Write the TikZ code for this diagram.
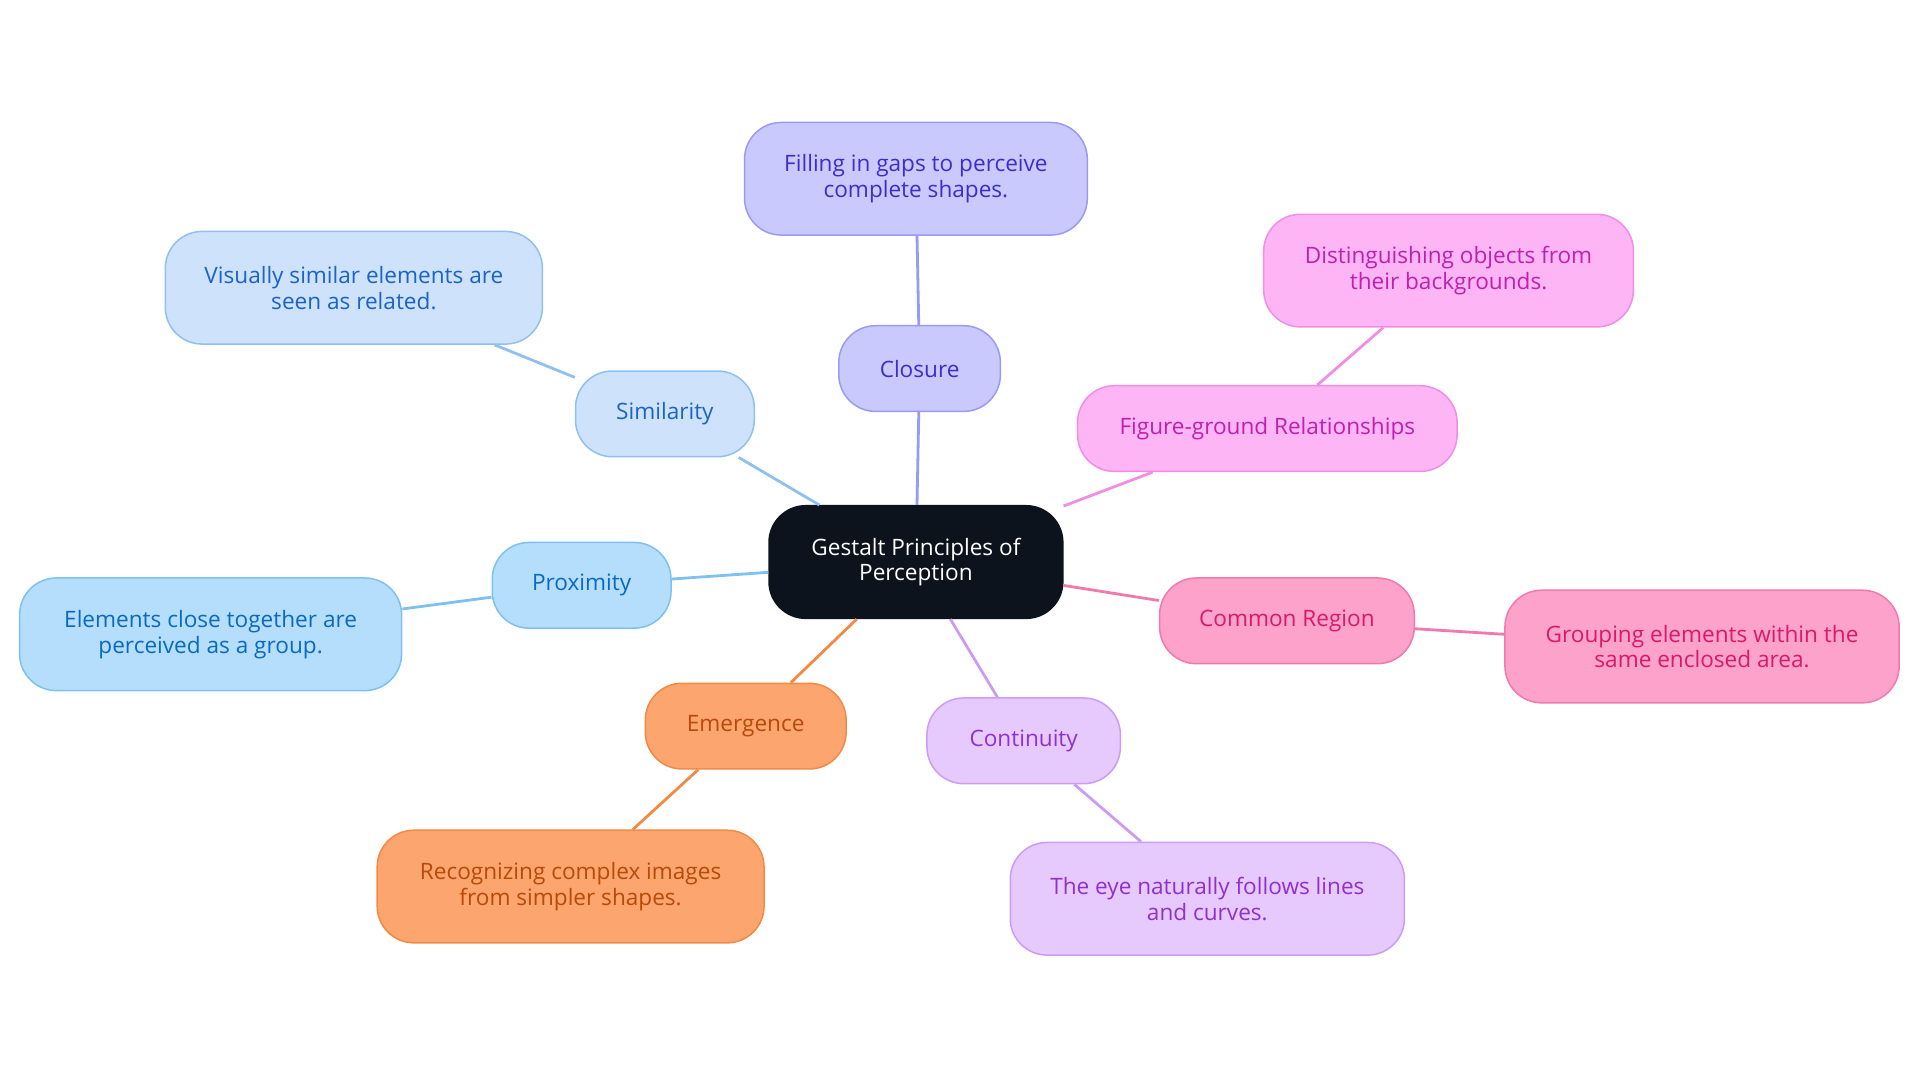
\documentclass[tikz,border=0pt]{standalone}
\usepackage{fontspec}
\setmainfont{Open Sans}
\usetikzlibrary{positioning}
\definecolor{centerfill}{HTML}{0D131C}
\definecolor{simfill}{HTML}{CFE2FB}\definecolor{simline}{HTML}{90C0F0}\definecolor{simtext}{HTML}{1A64C8}
\definecolor{clofill}{HTML}{C9C9FD}\definecolor{cloline}{HTML}{9A9AF5}\definecolor{clotext}{HTML}{3A30C8}
\definecolor{figfill}{HTML}{FDB5F5}\definecolor{figline}{HTML}{F08EE6}\definecolor{figtext}{HTML}{C020B0}
\definecolor{comfill}{HTML}{FCA2CB}\definecolor{comline}{HTML}{F07AAE}\definecolor{comtext}{HTML}{D81A6A}
\definecolor{confill}{HTML}{E6CAFD}\definecolor{conline}{HTML}{CC9CF5}\definecolor{context}{HTML}{9030D0}
\definecolor{emefill}{HTML}{FDA56E}\definecolor{emeline}{HTML}{F08A45}\definecolor{emetext}{HTML}{B84A0A}
\definecolor{profill}{HTML}{B5DEFD}\definecolor{proline}{HTML}{7EC0F0}\definecolor{protext}{HTML}{0A6AC0}
\tikzset{box/.style={draw,rounded corners=0.6cm,inner sep=0pt,align=center,font=\fontsize{10.5}{12}\selectfont,line width=0.7pt}}
\tikzset{topic/.style 2 args={box,fill=#1fill,draw=#1line,text=#1text,minimum width=#2,minimum height=1.4cm}}
\tikzset{leaf/.style 2 args={box,fill=#1fill,draw=#1line,text=#1text,minimum width=#2,minimum height=1.84cm}}
\tikzset{ed/.style={line width=1.3pt}}

\begin{document}
\begin{tikzpicture}[x=0.02cm,y=-0.02cm]
\useasboundingbox (0,0) rectangle (1568,884);

\node[box,fill=centerfill,draw=centerfill,text=white,minimum width=4.8cm,minimum height=1.84cm] (gestalt) at (748,459) {Gestalt Principles of\\Perception};

\node[topic={sim}{2.92cm}] (sim) at (543,338) {Similarity};
\node[leaf={sim}{6.16cm}] (simleaf) at (289,235) {Visually similar elements are\\seen as related.};
\node[topic={clo}{2.64cm}] (clo) at (751,301) {Closure};
\node[leaf={clo}{5.6cm}] (cloleaf) at (748,146) {Filling in gaps to perceive\\complete shapes.};
\node[topic={fig}{6.2cm}] (fig) at (1035,350) {Figure-ground Relationships};
\node[leaf={fig}{6.04cm}] (figleaf) at (1183,221) {Distinguishing objects from\\their backgrounds.};
\node[topic={com}{4.16cm}] (com) at (1051,507) {Common Region};
\node[leaf={com}{6.44cm}] (comleaf) at (1390,528) {Grouping elements within the\\same enclosed area.};
\node[topic={con}{3.16cm}] (con) at (836,605) {Continuity};
\node[leaf={con}{6.44cm}] (conleaf) at (986,734) {The eye naturally follows lines\\and curves.};
\node[topic={eme}{3.28cm}] (eme) at (609,593) {Emergence};
\node[leaf={eme}{6.32cm}] (emeleaf) at (466,724) {Recognizing complex images\\from simpler shapes.};
\node[topic={pro}{2.92cm}] (pro) at (475,478) {Proximity};
\node[leaf={pro}{6.24cm}] (proleaf) at (172,518) {Elements close together are\\perceived as a group.};

% branches
\draw[ed,simline] (gestalt) -- (sim);
\draw[ed,simline] (sim) -- (simleaf);
\draw[ed,cloline] (gestalt) -- (clo);
\draw[ed,cloline] (clo) -- (cloleaf);
\draw[ed,figline] (gestalt) -- (fig);
\draw[ed,figline] (fig) -- (figleaf);
\draw[ed,comline] (gestalt) -- (com);
\draw[ed,comline] (com) -- (comleaf);
\draw[ed,conline] (gestalt) -- (con);
\draw[ed,conline] (con) -- (conleaf);
\draw[ed,emeline] (gestalt) -- (eme);
\draw[ed,emeline] (eme) -- (emeleaf);
\draw[ed,proline] (gestalt) -- (pro);
\draw[ed,proline] (pro) -- (proleaf);
\end{tikzpicture}
\end{document}
